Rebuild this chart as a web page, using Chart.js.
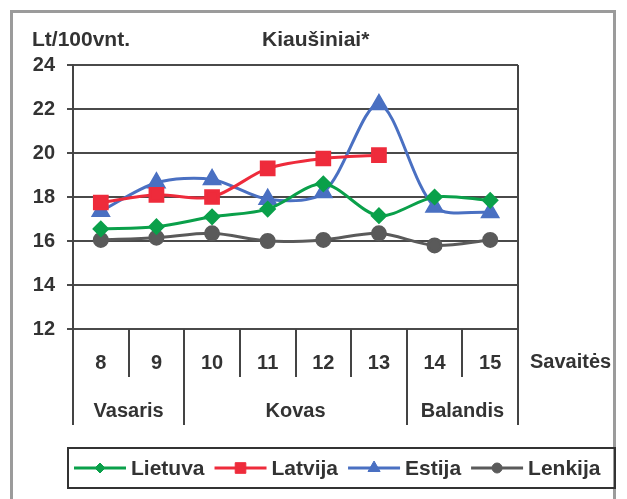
<!DOCTYPE html>
<html lang="lt">
<head>
    <meta charset="UTF-8">
    <title>Kiaušiniai</title>
    <style>
        body { margin: 0; background: #fff; font-family: "Liberation Sans", Arial, sans-serif; }
        #wrap { position: relative; width: 627px; height: 499px; overflow: hidden; }
        #frame { position: absolute; left: 10px; top: 10px; width: 600px; height: 520px; border: 3px solid #9b9b9b; }
        #chart { position: absolute; left: 0; top: 0; }
        .lbl { position: absolute; font-weight: bold; font-size: 21px; color: #333; }
    </style>
    <script src="https://cdn.jsdelivr.net/npm/chart.js"></script>
</head>
<body>
<div id="wrap">
    <div id="frame"></div>
    <canvas id="chart" width="627" height="499"></canvas>
    <div class="lbl" style="left:32px; top:27px;">Lt/100vnt.</div>
    <div class="lbl" style="left:262px; top:27px;">Kiaušiniai*</div>
</div>
<script>
    // savaitės ir mėnesiai
    const weeks = ['8', '9', '10', '11', '12', '13', '14', '15'];
    const months = ['Vasaris', 'Kovas', 'Balandis'];
    const monthSpans = [[0, 1], [2, 5], [6, 7]]; // savaičių indeksai

    // kainos, Lt/100 vnt.
    const lietuva = [16.55, 16.65, 17.1, 17.45, 18.6, 17.15, 18.0, 17.85];
    const latvija = [17.75, 18.1, 18.0, 19.3, 19.75, 19.9, null, null];
    const estija  = [17.35, 18.65, 18.8, 17.9, 18.2, 22.2, 17.55, 17.3];
    const lenkija = [16.05, 16.15, 16.35, 16.0, 16.05, 16.35, 15.8, 16.05];

    const yTicks = { min: 12, max: 24, step: 2 };

    const FONT = '"Liberation Sans", Arial, sans-serif';
    const TXT = '#333';

    // apatinė ašies dalis: skirtukai, mėnesiai, legenda
    const extrasPlugin = {
        id: 'extras',
        afterDraw(chart) {
            const ctx = chart.ctx;
            const x = chart.scales.x;
            const area = chart.chartArea;
            const half = (x.getPixelForValue(1) - x.getPixelForValue(0)) / 2;
            const monthStarts = monthSpans.map(s => s[0]);
            ctx.save();
            ctx.strokeStyle = '#444';
            ctx.lineWidth = 2;
            for (let i = 0; i <= weeks.length; i++) {
                const px = Math.round(x.getPixelForValue(i) - half);
                const long = monthStarts.includes(i) || i === weeks.length;
                ctx.beginPath();
                ctx.moveTo(px, area.bottom);
                ctx.lineTo(px, area.bottom + (long ? 96 : 48));
                ctx.stroke();
            }
            // right border of plot area
            ctx.beginPath();
            ctx.moveTo(area.right, area.top);
            ctx.lineTo(area.right, area.bottom);
            ctx.stroke();

            ctx.fillStyle = TXT;
            ctx.font = 'bold 20px ' + FONT;
            ctx.textAlign = 'center';
            ctx.textBaseline = 'middle';
            months.forEach((m, k) => {
                const a = x.getPixelForValue(monthSpans[k][0]);
                const b = x.getPixelForValue(monthSpans[k][1]);
                ctx.fillText(m, (a + b) / 2, area.bottom + 82);
            });
            ctx.textAlign = 'left';
            ctx.fillText('Savaitės', 530, area.bottom + 33);

            // legenda
            const box = { l: 68, t: 448, r: 615, b: 488 };
            ctx.strokeStyle = '#333';
            ctx.strokeRect(box.l, box.t, box.r - box.l, box.b - box.t);
            ctx.font = 'bold 21px ' + FONT;
            let cx = box.l + 6;
            const cy = (box.t + box.b) / 2;
            chart.data.datasets.forEach(ds => {
                ctx.strokeStyle = ds.borderColor;
                ctx.fillStyle = ds.borderColor;
                ctx.lineWidth = 3;
                ctx.beginPath();
                ctx.moveTo(cx, cy);
                ctx.lineTo(cx + 52, cy);
                ctx.stroke();
                ctx.lineWidth = 1;
                Chart.helpers.drawPoint(ctx, {
                    pointStyle: ds.pointStyle, rotation: 0, radius: ds.pointRadius - 1.5, borderWidth: 1
                }, cx + 26, cy);
                ctx.fillStyle = TXT;
                ctx.fillText(ds.label, cx + 57, cy + 1);
                cx += 57 + ctx.measureText(ds.label).width + 10;
            });
            ctx.restore();
        }
    };

    function series(label, data, color, style, radius) {
        return {
            label: label,
            data: data,
            borderColor: color,
            backgroundColor: color,
            pointBackgroundColor: color,
            pointBorderColor: color,
            pointStyle: style,
            pointRadius: radius,
            borderWidth: 3,
            tension: 0.3,
            spanGaps: false
        };
    }

    new Chart(document.getElementById('chart'), {
        type: 'line',
        data: {
            labels: weeks,
            datasets: [
                series('Lietuva', lietuva, '#0aa04a', 'rectRot', 6.5),
                series('Latvija', latvija, '#ee2b3b', 'rect', 9),
                series('Estija', estija, '#4a70c2', 'triangle', 8.5),
                series('Lenkija', lenkija, '#5a5a5a', 'circle', 6.5)
            ]
        },
        options: {
            responsive: false,
            animation: false,
            layout: { padding: { left: 0, top: 65, right: 109, bottom: 0 } },
            plugins: { legend: { display: false }, tooltip: { enabled: false } },
            scales: {
                x: {
                    offset: true,
                    grid: { display: false, drawTicks: false },
                    border: { display: false },
                    ticks: {
                        color: TXT, padding: 22,
                        font: { family: FONT, size: 20, weight: 'bold' }
                    },
                    afterFit(s) { s.height = 170; }
                },
                y: {
                    min: yTicks.min, max: yTicks.max,
                    grid: { color: '#4a4a4a', lineWidth: 2, tickLength: 6 },
                    border: { color: '#444', width: 2 },
                    ticks: {
                        stepSize: yTicks.step, color: TXT, padding: 12,
                        font: { family: FONT, size: 20, weight: 'bold' }
                    },
                    afterFit(s) { s.width = 73; }
                }
            }
        },
        plugins: [extrasPlugin]
    });
</script>
</body>
</html>
